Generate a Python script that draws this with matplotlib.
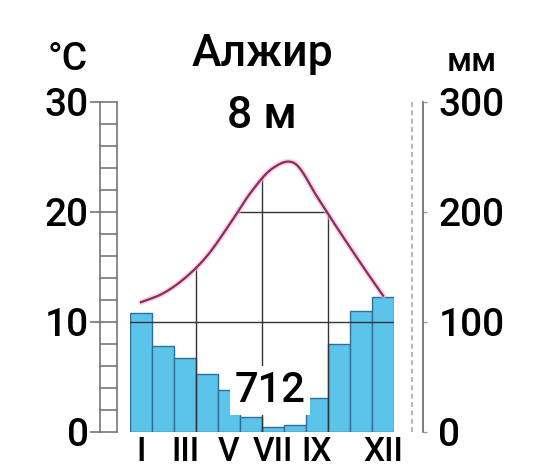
import numpy as np
import matplotlib
matplotlib.use("Agg")
import matplotlib.pyplot as plt
from matplotlib.patches import Polygon
from matplotlib.transforms import blended_transform_factory

plt.rcParams['font.family'] = ['Roboto', 'Liberation Sans', 'DejaVu Sans']
plt.rcParams['font.weight'] = 'medium'

# climate data, Algiers
months = np.arange(1, 13)
temp = [11.8, 12.6, 14.0, 16.0, 18.8, 21.8, 24.0, 24.4, 21.4, 18.3, 15.3, 12.4]
precip = [108, 78, 67, 53, 38, 14, 5, 6, 31, 80, 110, 123]
month_ticks = [1, 3, 5, 7, 9, 12]
month_labels = ["I", "III", "V", "VII", "IX", "XII"]
total = 712


def catmull(x, y, n=20):
    # smooth curve through the monthly points
    x = np.asarray(x, float); y = np.asarray(y, float)
    xp = np.concatenate([[2*x[0]-x[1]], x, [2*x[-1]-x[-2]]])
    yp = np.concatenate([[2*y[0]-y[1]], y, [2*y[-1]-y[-2]]])
    xs, ys = [], []
    for i in range(1, len(xp)-2):
        t = np.linspace(0, 1, n, endpoint=False)
        for arr, out in ((xp, xs), (yp, ys)):
            p0, p1, p2, p3 = arr[i-1:i+3]
            out.extend(0.5*((2*p1) + (-p0+p2)*t + (2*p0-5*p1+4*p2-p3)*t**2
                            + (-p0+3*p1-3*p2+p3)*t**3))
    xs.append(x[-1]); ys.append(y[-1])
    return np.array(xs), np.array(ys)


W, H = 534, 474
fig = plt.figure(figsize=(W/100, H/100), dpi=100)
ax = fig.add_axes([130/W, (H-432)/H, 264/W, 330/H])
ax.set_xlim(0.5, 12.5)
ax.set_ylim(0, 30)
ax2 = ax.twinx()
ax2.set_ylim(0, 300)

# precipitation bars
ax2.bar(months, precip, width=1.0, color='#5cc3ea', edgecolor='#2d6f98', linewidth=1.0, zorder=2)

# temperature curve
cx, cy = catmull(months, temp)
ax2.plot(cx, cy*10, color='#f5b8d4', lw=4, alpha=0.6, zorder=4, solid_capstyle='round')
ax2.plot(cx, cy*10, color='#8c2a5e', lw=1.6, zorder=5)

# grid lines, only below the curve
clip = Polygon(np.column_stack([np.r_[cx, cx[-1], cx[0]], np.r_[cy*10, 0, 0]]),
               closed=True, transform=ax2.transData, facecolor='none', edgecolor='none')
ax2.add_patch(clip)
ax2.axhline(100, color='#333333', lw=1.0, zorder=3)
l20 = ax2.axhline(200, color='#333333', lw=1.0, zorder=3)
l20.set_clip_path(clip)
for xv in [3.5, 6.5, 9.5]:
    vl = ax2.axvline(xv, color='#333333', lw=1.0, zorder=3)
    vl.set_clip_path(clip)

# scale ladders at both sides
tr = blended_transform_factory(ax.transAxes, ax.transData)
x0, x1 = -0.114, -0.049
ax.plot([x0, x0], [0, 30], color='#777777', lw=1.2, transform=tr, clip_on=False)
ax.plot([x1, x1], [0, 30], color='#777777', lw=1.2, transform=tr, clip_on=False)
for v in range(0, 31, 2):
    ax.plot([x0, x1], [v, v], color='#777777', lw=1.2, transform=tr, clip_on=False)
x0, x1 = 1.068, 1.11
ax.plot([x0, x0], [0, 30], color='#aaaaaa', lw=1.2, ls=(0, (3, 2)), transform=tr, clip_on=False)
ax.plot([x1, x1], [0, 30], color='#666666', lw=1.2, transform=tr, clip_on=False)

# axes styling
for s in list(ax.spines.values()) + list(ax2.spines.values()):
    s.set_visible(False)
ax.spines['left'].set_position(('axes', -0.114))
ax.set_yticks([0, 10, 20, 30])
ax.tick_params(axis='y', length=7, width=1.2, color='#777777', pad=1, labelsize=28)
ax2.spines['right'].set_position(('axes', 1.11))
ax2.set_yticks([0, 100, 200, 300])
ax2.tick_params(axis='y', length=3, width=1.0, color='#999999', pad=8, labelsize=28)
ax.set_xticks(month_ticks)
ax.set_xticklabels(month_labels)
ax.tick_params(axis='x', length=0, pad=3, labelsize=24)

# labels
fig.text(68/W, 1-60/H, "°C", ha='center', va='center', fontsize=28)
fig.text(472/W, 1-62/H, "мм", ha='center', va='center', fontsize=24)
fig.text(262/W, 1-54/H, "Алжир", ha='center', va='center', fontsize=32)
fig.text(262/W, 1-116/H, "8 м", ha='center', va='center', fontsize=32)
ax2.text(6.86, 38, str(total), ha='center', va='center', fontsize=30, zorder=6,
         bbox=dict(boxstyle='square,pad=0.1', facecolor='white', edgecolor='none'))

fig.savefig("out.png", dpi=100)
